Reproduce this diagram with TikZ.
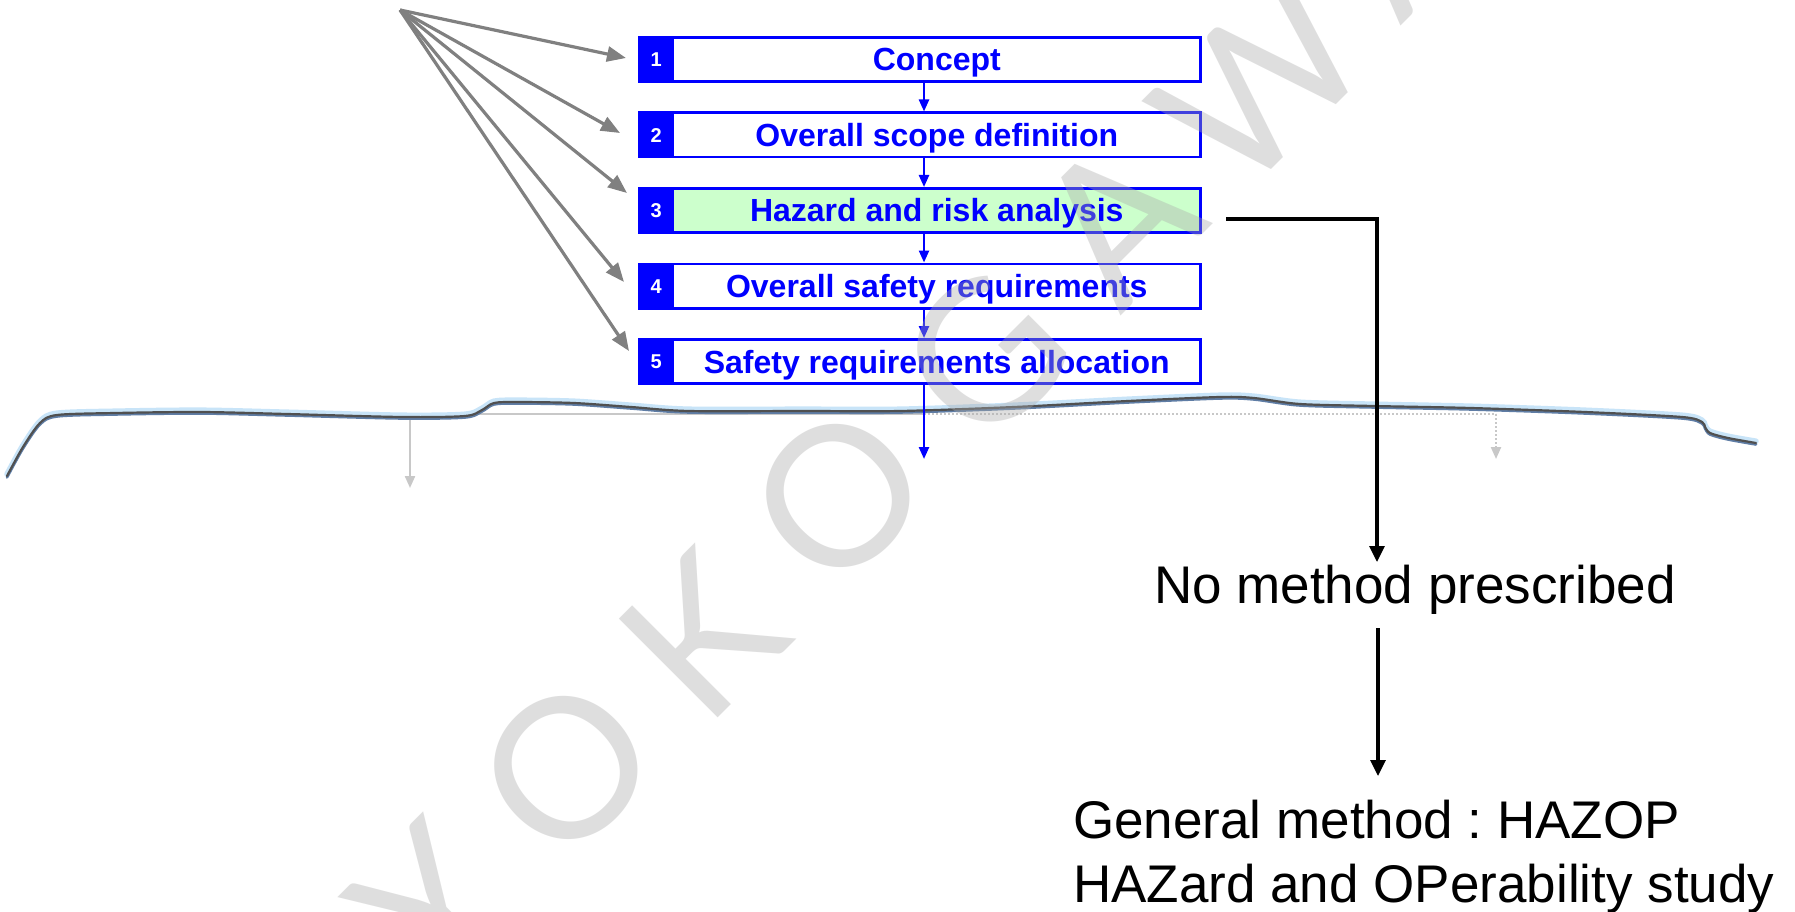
\documentclass[tikz,border=0pt]{standalone}
\usepackage{fontspec}
\setmainfont{Liberation Sans}
\newfontfamily\wmfont{Lato}
\usetikzlibrary{arrows.meta}
\frenchspacing

\definecolor{boxblue}{RGB}{0,0,255}
\definecolor{hazgreen}{RGB}{204,255,204}
\definecolor{arrowgray}{RGB}{128,128,128}
\definecolor{faintgray}{RGB}{200,200,200}
\definecolor{wmgray}{RGB}{170,170,170}
\definecolor{tornhalo}{RGB}{200,228,248}
\definecolor{tornshade}{RGB}{95,125,165}
\definecolor{torncore}{RGB}{80,80,80}

\begin{document}
\begin{tikzpicture}[x=1pt,y=-1pt,
  stepbox/.style={draw=boxblue, line width=2.7pt, fill=white,
    minimum width=527.65pt, minimum height=44.3pt, inner sep=0pt,
    text=boxblue, font=\fontsize{32}{36}\selectfont\bfseries,
    text height=23pt, text depth=0pt},
  numbox/.style={draw=boxblue, fill=boxblue, line width=2.7pt,
    minimum width=33.65pt, minimum height=44.3pt, inner sep=0pt,
    text=white, font=\fontsize{20}{22}\selectfont\bfseries,
    text height=14.3pt, text depth=0pt},
  flow/.style={draw=boxblue, line width=2.4pt, -{Triangle[length=12pt,width=10pt]}},
  pointer/.style={draw=arrowgray, line width=3.2pt, -{Triangle[length=19pt,width=15pt]}},
  faint/.style={draw=faintgray, line width=2.2pt},
  fainttip/.style={-{Triangle[length=12pt,width=10pt]}},
  route/.style={draw=black, line width=3.2pt, -{Triangle[length=16pt,width=15pt]}},
  note/.style={inner sep=0pt, anchor=base west, font=\fontsize{53}{60}\selectfont},
  wm/.style={inner sep=0pt, rotate=45, text=wmgray, opacity=0.38,
    font=\wmfont\fontsize{195}{195}\selectfont},
]
% page
\path[use as bounding box, fill=white] (0,0) rectangle (1795,912);

% faint reference lines below the edge
\coordinate (fa) at (410,414);
\coordinate (fb) at (924,414);
\coordinate (fc) at (1496,414);
\coordinate (fa2) at (410,488);
\coordinate (fc2) at (1496,459);
\draw[faint] (fa) -- (fb);
\draw[faint, dash pattern=on 2pt off 2pt] (fb) -- (fc);
\draw[faint, fainttip] (fa) -- (fa2);
\draw[faint, fainttip, dash pattern=on 2pt off 2pt] (fc) -- (fc2);

% torn edge: pale rim above, blue shadow below, dark core
\draw[tornhalo, line width=5.5pt, yshift=1.8pt, line cap=round]
  plot[smooth, tension=0.5] coordinates {(7,476) (23,447) (40,423) (57,415) (115,413) (201,412) (287,414) (402,417) (465,416) (482,410) (494,403) (517,402) (574,403) (631,407) (689,411) (804,411) (900,411) (1014,407) (1128,401) (1220,397) (1254,398) (1300,404) (1374,406) (1471,408) (1585,412) (1682,417) (1702,422) (1705,427) (1710,433) (1728,438) (1756,443)};
\draw[tornshade, line width=2.6pt, yshift=-1.5pt, line cap=round]
  plot[smooth, tension=0.5] coordinates {(7,476) (23,447) (40,423) (57,415) (115,413) (201,412) (287,414) (402,417) (465,416) (482,410) (494,403) (517,402) (574,403) (631,407) (689,411) (804,411) (900,411) (1014,407) (1128,401) (1220,397) (1254,398) (1300,404) (1374,406) (1471,408) (1585,412) (1682,417) (1702,422) (1705,427) (1710,433) (1728,438) (1756,443)};
\draw[torncore, line width=2.2pt, line cap=round]
  plot[smooth, tension=0.5] coordinates {(7,476) (23,447) (40,423) (57,415) (115,413) (201,412) (287,414) (402,417) (465,416) (482,410) (494,403) (517,402) (574,403) (631,407) (689,411) (804,411) (900,411) (1014,407) (1128,401) (1220,397) (1254,398) (1300,404) (1374,406) (1471,408) (1585,412) (1682,417) (1702,422) (1705,427) (1710,433) (1728,438) (1756,443)};

% lifecycle steps
\node[numbox]  (n1) at (656.2,59.5)  {1};
\node[stepbox] (b1) at (936.8,59.5)  {Concept};
\node[numbox]  (n2) at (656.2,135)   {2};
\node[stepbox] (b2) at (936.8,135)   {Overall scope definition};
\node[numbox]  (n3) at (656.2,210.5) {3};
\node[stepbox, fill=hazgreen] (b3) at (936.8,210.5) {Hazard and risk analysis};
\node[numbox]  (n4) at (656.2,286)   {4};
\node[stepbox] (b4) at (936.8,286)   {Overall safety requirements};
\node[numbox]  (n5) at (656.2,361.5) {5};
\node[stepbox] (b5) at (936.8,361.5) {Safety requirements allocation};

% flow between steps
\coordinate (ax) at (924,0);
\coordinate (bend) at (924,459);
\draw[flow] (b1.south -| ax) -- (b2.north -| ax);
\draw[flow] (b2.south -| ax) -- (b3.north -| ax);
\draw[flow] (b3.south -| ax) -- (b4.north -| ax);
\draw[flow] (b4.south -| ax) -- (b5.north -| ax);
\draw[flow] (b5.south -| ax) -- (bend);

% pointers fanning out to the first steps
\coordinate (src) at (400,10);
\coordinate (p1) at (626,58);
\coordinate (p2) at (620,133);
\coordinate (p3) at (627,193);
\coordinate (p4) at (624,282);
\coordinate (p5) at (629,351);
\foreach \i in {1,...,5} \draw[pointer] (src) -- (p\i);

% method notes
\coordinate (hs) at (1226,219);
\coordinate (t1) at (1377,562);
\draw[route] (hs) -| (t1);
\node[note] (nm) at (1154,603) {No method prescribed};
\coordinate (s2) at (1378,628);
\coordinate (t2) at (1378,776);
\draw[route] (s2) -- (t2);
\node[note] (gm) at (1073,838) {General method : HAZOP};
\node[note] (hz) at (1073,902) {HAZard and OPerability study};

% watermark
\node[wm] (w1) at (430,904)  {Y};
\node[wm] (w2) at (566,768)  {O};
\node[wm] (w3) at (702,635)  {K};
\node[wm] (w4) at (838,496)  {O};
\node[wm] (w5) at (984,356)  {G};
\node[wm] (w6) at (1118,220) {A};
\node[wm] (w7) at (1260,82)  {W};
\node[wm] (w8) at (1398,-70) {A};
\end{tikzpicture}
\end{document}
